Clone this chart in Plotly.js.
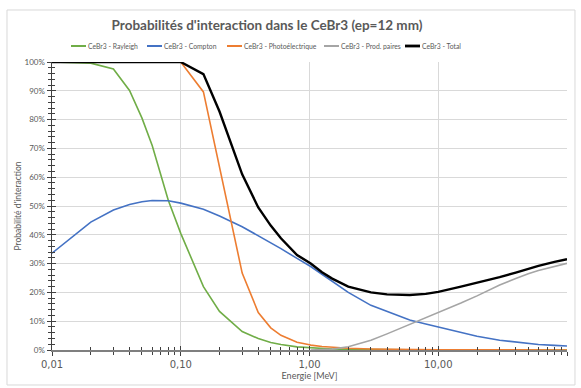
<!DOCTYPE html>
<html>
<head>
<meta charset="utf-8">
<script src="https://cdn.plot.ly/plotly-3.0.1.min.js"></script>
<style>html,body{margin:0;padding:0;background:#fff;}#chart{width:581px;height:388px;}</style>
</head>
<body>
<div id="chart"></div>
<script>
// Energy grid (MeV)
const energy = [0.01,0.015,0.02,0.03,0.04,0.05,0.06,0.08,0.1,0.15,0.2,0.3,0.4,0.5,0.6,0.8,1,1.022,1.25,1.5,2,3,4,5,6,8,10,15,20,30,40,50,60,80,100];
// Probabilities (%)
const rayleigh = [100,99.9,99.6,97.6,90.1,80.5,71,52,40.5,22,13.4,6.4,4.0,2.6,1.9,1.1,0.8,0.75,0.5,0.35,0.2,0.1,0.06,0.04,0.03,0.02,0.01,0.01,0,0,0,0,0,0,0];
const compton = [33.6,40.0,44.4,48.6,50.5,51.5,51.9,51.8,51.0,48.9,46.5,42.8,39.7,37.2,35.2,31.8,29.3,29.0,26.3,23.8,20.0,15.5,13.3,11.6,10.4,9.0,8.0,6.0,4.8,3.4,2.7,2.2,1.9,1.6,1.4];
const photo = [100,100,100,100,100,100,100,100,100,89.6,63,26.7,13,7.7,5.1,2.7,1.8,1.7,1.2,0.9,0.6,0.35,0.25,0.2,0.16,0.12,0.1,0.07,0.05,0.03,0.02,0.02,0.01,0.01,0.01];
const pairs = [null,null,null,null,null,null,null,null,null,null,null,null,null,null,null,null,null,0,0.1,0.3,1.1,3.4,5.6,7.4,8.9,11.2,12.8,16.3,18.8,22.6,24.8,26.5,27.6,29.1,30.1];
const total = [100,100,100,100,100,100,100,100,100,95.8,82.8,61,49.5,43.2,38.8,33,30.3,30.0,27.0,24.8,22.0,20.0,19.3,19.1,19.1,19.5,20.2,22.0,23.3,25.3,26.9,28.3,29.2,30.6,31.5];

const seriesNames = ['CeBr3 - Rayleigh','CeBr3 - Compton','CeBr3 - Photoélectrique','CeBr3 - Prod. paires','CeBr3 - Total'];
const xTickVals = [0.01,0.1,1,10,100];
const xTickText = ['0,01','0,10','1,00','10,00','100,00'];
const yTickVals = [0,10,20,30,40,50,60,70,80,90,100];
const yTickText = ['0%','10%','20%','30%','40%','50%','60%','70%','80%','90%','100%'];

const series = [rayleigh, compton, photo, pairs, total];
const colors = ['#70AD47','#4472C4','#ED7D31','#A5A5A5','#000000'];
const widths = [1.6,1.6,1.6,1.6,2.4];

const traces = series.map((s,i)=>({
  x: energy, y: s, name: seriesNames[i], type:'scatter', mode:'lines',
  line:{color:colors[i], width:widths[i]}, connectgaps:false, showlegend:false
}));

const font = 'Lato, "Open Sans", "Liberation Sans", sans-serif';

// Legend row (drawn as shapes + annotations so it stays on one line like the original)
const plotL = 52, plotW = 515, plotB = 350, plotH = 288;
const px2x = p => (p - plotL) / plotW;
const legendTextStart = [87, 163, 243, 340, 421];
const legendY = (plotB - 46) / plotH;
const legendShapes = seriesNames.map((n,i)=>({type:'line', xref:'paper', yref:'paper',
  x0:px2x(legendTextStart[i]-16), x1:px2x(legendTextStart[i]-1), y0:legendY, y1:legendY,
  line:{color:colors[i], width:widths[i]+0.4}}));
const legendAnn = seriesNames.map((n,i)=>({xref:'paper', yref:'paper', x:px2x(legendTextStart[i]), y:legendY,
  xanchor:'left', yanchor:'middle', text:n, showarrow:false, borderpad:0, font:{family:font, size:6.8, color:'#595959'}}));

const layout = {
  width:581, height:388,
  paper_bgcolor:'#fff', plot_bgcolor:'#fff',
  margin:{l:52, r:14, t:62, b:38, autoexpand:false},
  title:{text:"<b>Probabilités d'interaction dans le CeBr3 (ep=12 mm)</b>", x:0.4596, xref:'container', xanchor:'center', y:0.935, yref:'container', yanchor:'middle',
    font:{family:'Lato, sans-serif', size:13.5, color:'#595959'}},
  showlegend:false,
  xaxis:{type:'log', range:[-2,2], tickmode:'array', tickvals:xTickVals, ticktext:xTickText,
    showgrid:true, gridcolor:'#d9d9d9', gridwidth:1,
    showline:true, linecolor:'#7f7f7f', linewidth:1.5, zeroline:false,
    ticks:'outside', ticklen:4, tickcolor:'#404040',
    minor:{ticks:'outside', ticklen:3, tickcolor:'#404040', dtick:'D1', showgrid:false},
    tickfont:{family:'"DejaVu Sans", sans-serif', size:10, color:'#595959'},
    title:{text:'Energie [MeV]', font:{family:font, size:9, color:'#595959'}, standoff:4}},
  yaxis:{range:[0,100], tickmode:'array', tickvals:yTickVals, ticktext:yTickText,
    showgrid:true, gridcolor:'#d9d9d9', gridwidth:1,
    showline:true, linecolor:'#404040', linewidth:1.5, zeroline:false,
    ticks:'outside', ticklen:4, tickcolor:'#404040',
    minor:{ticks:'outside', ticklen:3, tickcolor:'#404040', dtick:2, showgrid:false},
    tickfont:{family:font, size:8, color:'#595959'},
    title:{text:"Probabilité d'interaction", font:{family:font, size:8.5, color:'#595959'}, standoff:1}},
  xaxis2:{type:'log', range:[-2,2], overlaying:'x', side:'bottom', anchor:'y',
    tickmode:'array', tickvals:xTickVals, showticklabels:false, showgrid:false, showline:false, zeroline:false,
    ticks:'inside', ticklen:4, tickcolor:'#404040',
    minor:{ticks:'inside', ticklen:3, tickcolor:'#404040', dtick:'D1', showgrid:false}},
  yaxis2:{range:[0,100], overlaying:'y', side:'left', anchor:'x',
    tickmode:'array', tickvals:yTickVals, showticklabels:false, showgrid:false, showline:false, zeroline:false,
    ticks:'inside', ticklen:4, tickcolor:'#404040',
    minor:{ticks:'inside', ticklen:3, tickcolor:'#404040', dtick:2, showgrid:false}},
  shapes:[{type:'rect', xref:'paper', yref:'paper', x0:-0.0874, x1:1.0155, y0:-0.1215, y1:1.1806,
    line:{color:'#d9d9d9', width:1}, fillcolor:'rgba(0,0,0,0)', layer:'below'}].concat(legendShapes),
  annotations:legendAnn
};
// invisible trace so the secondary axes (inner halves of the crossing ticks) are drawn
traces.push({x:[0.01], y:[null], xaxis:'x2', yaxis:'y2', showlegend:false, hoverinfo:'skip', type:'scatter', mode:'lines'});
Plotly.newPlot('chart', traces, layout, {displayModeBar:false, staticPlot:true});
</script>
</body>
</html>
